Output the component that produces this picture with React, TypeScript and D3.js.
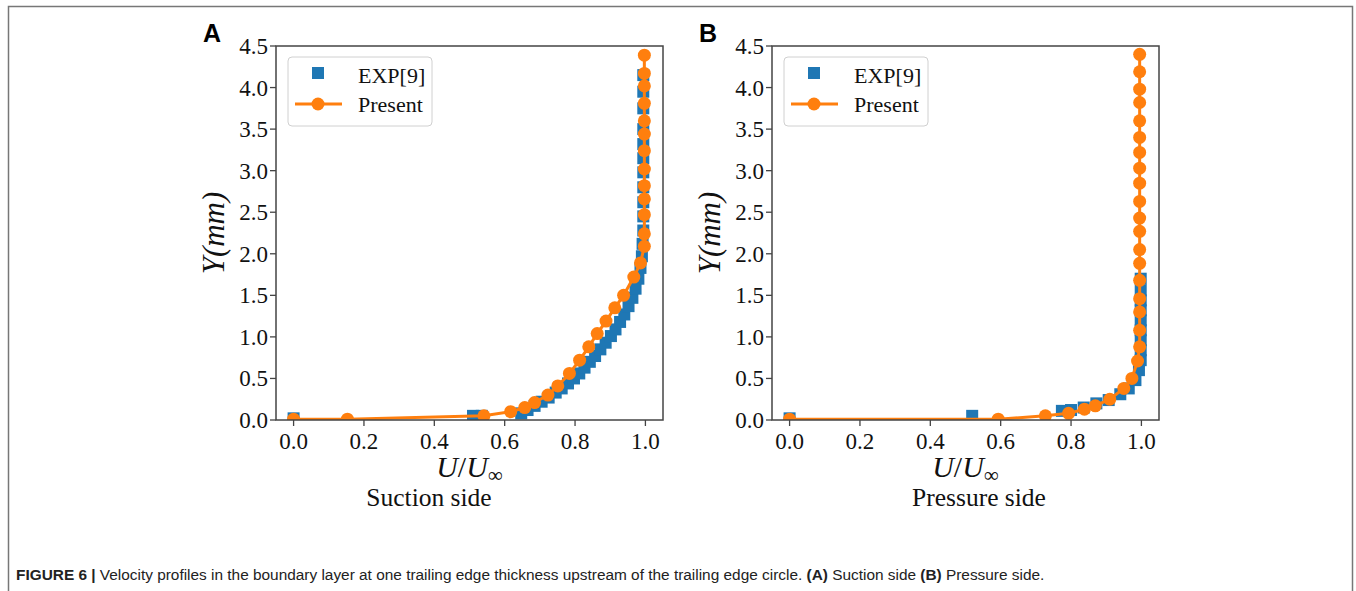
import React from "react";
import * as d3 from "d3";

// ---------- data ----------
const expA_u = [0.0, 0.51, 0.535, 0.647, 0.665, 0.685, 0.705, 0.725, 0.745, 0.762, 0.78, 0.797, 0.812, 0.827, 0.842, 0.857, 0.872, 0.887, 0.902, 0.915, 0.928, 0.94, 0.952, 0.963, 0.972, 0.98, 0.986, 0.99, 0.992, 0.994, 0.994, 0.994, 0.994, 0.994, 0.994, 0.994, 0.994, 0.994, 0.994, 0.994];
const expA_y = [0.02, 0.05, 0.05, 0.08, 0.12, 0.17, 0.22, 0.27, 0.33, 0.38, 0.44, 0.5, 0.56, 0.63, 0.7, 0.77, 0.85, 0.93, 1.01, 1.09, 1.18, 1.27, 1.37, 1.47, 1.58, 1.7, 1.83, 1.97, 2.12, 2.28, 2.45, 2.62, 2.8, 2.98, 3.15, 3.32, 3.5, 3.75, 3.95, 4.15];

const preA_u = [0.0, 0.153, 0.541, 0.617, 0.657, 0.685, 0.723, 0.751, 0.784, 0.813, 0.839, 0.863, 0.888, 0.913, 0.938, 0.967, 0.986, 0.997, 0.997, 0.997, 0.997, 0.997, 0.997, 0.997, 0.997, 0.997, 0.997, 0.997, 0.997, 0.997];
const preA_y = [0.01, 0.01, 0.05, 0.1, 0.15, 0.21, 0.3, 0.41, 0.56, 0.72, 0.88, 1.04, 1.19, 1.35, 1.5, 1.72, 1.89, 2.09, 2.24, 2.47, 2.66, 2.82, 3.02, 3.24, 3.44, 3.6, 3.81, 4.02, 4.17, 4.39];

const expB_u = [0.0, 0.519, 0.774, 0.8, 0.836, 0.872, 0.907, 0.94, 0.964, 0.983, 0.993, 0.998, 0.998, 0.998, 0.998, 0.998, 0.998, 0.998, 0.998, 0.998];
const expB_y = [0.02, 0.05, 0.11, 0.12, 0.15, 0.2, 0.24, 0.31, 0.38, 0.48, 0.6, 0.72, 0.84, 0.96, 1.08, 1.2, 1.32, 1.44, 1.56, 1.7];

const preB_u = [0.0, 0.593, 0.727, 0.793, 0.838, 0.869, 0.91, 0.95, 0.973, 0.989, 0.995, 0.995, 0.995, 0.995, 0.995, 0.995, 0.995, 0.995, 0.995, 0.995, 0.995, 0.995, 0.995, 0.995, 0.995, 0.995, 0.995, 0.995, 0.995];
const preB_y = [0.01, 0.01, 0.05, 0.08, 0.13, 0.17, 0.25, 0.38, 0.5, 0.71, 0.88, 1.08, 1.3, 1.46, 1.68, 1.885, 2.05, 2.27, 2.43, 2.63, 2.85, 3.03, 3.22, 3.4, 3.6, 3.82, 3.98, 4.19, 4.4];

const xTicks = [0, 0.2, 0.4, 0.6, 0.8, 1.0];
const yTicks = [0, 0.5, 1.0, 1.5, 2.0, 2.5, 3.0, 3.5, 4.0, 4.5];
const seriesNames = ["EXP[9]", "Present"];
const panelLetters = ["A", "B"];
const panelTitles = ["Suction side", "Pressure side"];

const BLUE = "#1f77b4";
const ORANGE = "#ff7f0e";
const SERIF = "'Liberation Serif', 'Times New Roman', serif";
const SANS = "'Liberation Sans', Arial, sans-serif";

type PanelProps = {
  left: number;
  titleX: number;
  expU: number[];
  expY: number[];
  preU: number[];
  preY: number[];
  letter: string;
  title: string;
};

const TOP = 46;
const BOTTOM = 420;
const WIDTH = 387;

function Panel({ left, titleX, expU, expY, preU, preY, letter, title }: PanelProps) {
  const x = d3.scaleLinear().domain([-0.05, 1.05]).range([left, left + WIDTH]);
  const y = d3.scaleLinear().domain([0, 4.5]).range([BOTTOM, TOP]);
  const pre = preU.map((u, i) => [u, preY[i]] as [number, number]);
  const line = d3
    .line<[number, number]>()
    .x((d) => x(d[0]))
    .y((d) => y(d[1]));
  const sq = 12;
  const cx = (left + left + WIDTH) / 2;
  return (
    <g>
      <defs>
        <clipPath id={"clip" + letter}>
          <rect x={left} y={TOP} width={WIDTH} height={BOTTOM - TOP} />
        </clipPath>
      </defs>
      <g clipPath={`url(#clip${letter})`}>
        {expU.map((u, i) => (
          <rect
            key={i}
            x={x(u) - sq / 2}
            y={y(expY[i]) - sq / 2}
            width={sq}
            height={sq}
            fill={BLUE}
          />
        ))}
        <path d={line(pre) || ""} fill="none" stroke={ORANGE} strokeWidth={3} />
        {pre.map((d, i) => (
          <circle key={i} cx={x(d[0])} cy={y(d[1])} r={6.5} fill={ORANGE} />
        ))}
      </g>
      {/* spines */}
      <rect
        x={left}
        y={TOP}
        width={WIDTH}
        height={BOTTOM - TOP}
        fill="none"
        stroke="#444"
        strokeWidth={1.5}
      />
      {/* x ticks */}
      {xTicks.map((t) => (
        <g key={"x" + t}>
          <line x1={x(t)} x2={x(t)} y1={BOTTOM} y2={BOTTOM + 6} stroke="#444" strokeWidth={1.3} />
          <text
            x={x(t)}
            y={BOTTOM + 29}
            textAnchor="middle"
            fontFamily={SERIF}
            fontSize={23}
            fill="#111"
          >
            {d3.format(".1f")(t)}
          </text>
        </g>
      ))}
      {/* y ticks */}
      {yTicks.map((t) => (
        <g key={"y" + t}>
          <line x1={left - 6} x2={left} y1={y(t)} y2={y(t)} stroke="#444" strokeWidth={1.3} />
          <text
            x={left - 8}
            y={y(t) + 8}
            textAnchor="end"
            fontFamily={SERIF}
            fontSize={23}
            fill="#111"
          >
            {d3.format(".1f")(t)}
          </text>
        </g>
      ))}
      {/* axis labels */}
      <text
        x={cx}
        y={477}
        textAnchor="middle"
        fontFamily={SERIF}
        fontSize={30}
        fill="#111"
      >
        <tspan fontStyle="italic">U</tspan>
        <tspan>/</tspan>
        <tspan fontStyle="italic">U</tspan>
        <tspan fontSize={21} dy={5}>∞</tspan>
      </text>
      <text
        transform={`translate(${left - 52},${(TOP + BOTTOM) / 2}) rotate(-90)`}
        textAnchor="middle"
        fontFamily={SERIF}
        fontSize={31}
        fontStyle="italic"
        fill="#111"
      >
        Y(mm)
      </text>
      {/* legend */}
      <rect
        x={left + 12}
        y={57}
        width={144}
        height={69}
        rx={4}
        fill="#fff"
        fillOpacity={0.8}
        stroke="#d0d0d0"
        strokeWidth={1}
      />
      <rect x={left + 42 - 6} y={73 - 6} width={12} height={12} fill={BLUE} />
      <line x1={left + 19} x2={left + 66} y1={104} y2={104} stroke={ORANGE} strokeWidth={3} />
      <circle cx={left + 42} cy={104} r={6.5} fill={ORANGE} />
      <text x={left + 82} y={83} fontFamily={SERIF} fontSize={22} fill="#111">
        {seriesNames[0]}
      </text>
      <text x={left + 82} y={112} fontFamily={SERIF} fontSize={22} fill="#111">
        {seriesNames[1]}
      </text>
      {/* panel letter */}
      <text
        x={left - 73}
        y={42}
        fontFamily={SANS}
        fontWeight="bold"
        fontSize={25}
        fill="#000"
      >
        {letter}
      </text>
      {/* subtitle */}
      <text
        x={titleX}
        y={506}
        textAnchor="middle"
        fontFamily={SERIF}
        fontSize={25.5}
        fill="#111"
      >
        {title}
      </text>
    </g>
  );
}

export default function App() {
  return (
    <svg
      width={1356}
      height={591}
      style={{ position: "absolute", left: 0, top: 0, background: "#fff" }}
    >
      <rect x={0} y={0} width={1356} height={591} fill="#fff" />
      <path d="M8.5,600 V6.5 H1352.5 V600" fill="none" stroke="#777" strokeWidth={1.5} />
      <Panel
        left={276}
        titleX={429}
        expU={expA_u}
        expY={expA_y}
        preU={preA_u}
        preY={preA_y}
        letter={panelLetters[0]}
        title={panelTitles[0]}
      />
      <Panel
        left={772}
        titleX={979}
        expU={expB_u}
        expY={expB_y}
        preU={preB_u}
        preY={preB_y}
        letter={panelLetters[1]}
        title={panelTitles[1]}
      />
      <text x={16} y={580} fontFamily={SANS} fontSize={15.4} fill="#222">
        <tspan fontWeight="bold">FIGURE 6 | </tspan>
        <tspan>
          Velocity profiles in the boundary layer at one trailing edge thickness upstream of the trailing edge circle.{" "}
        </tspan>
        <tspan fontWeight="bold">(A)</tspan>
        <tspan> Suction side </tspan>
        <tspan fontWeight="bold">(B)</tspan>
        <tspan> Pressure side.</tspan>
      </text>
    </svg>
  );
}
